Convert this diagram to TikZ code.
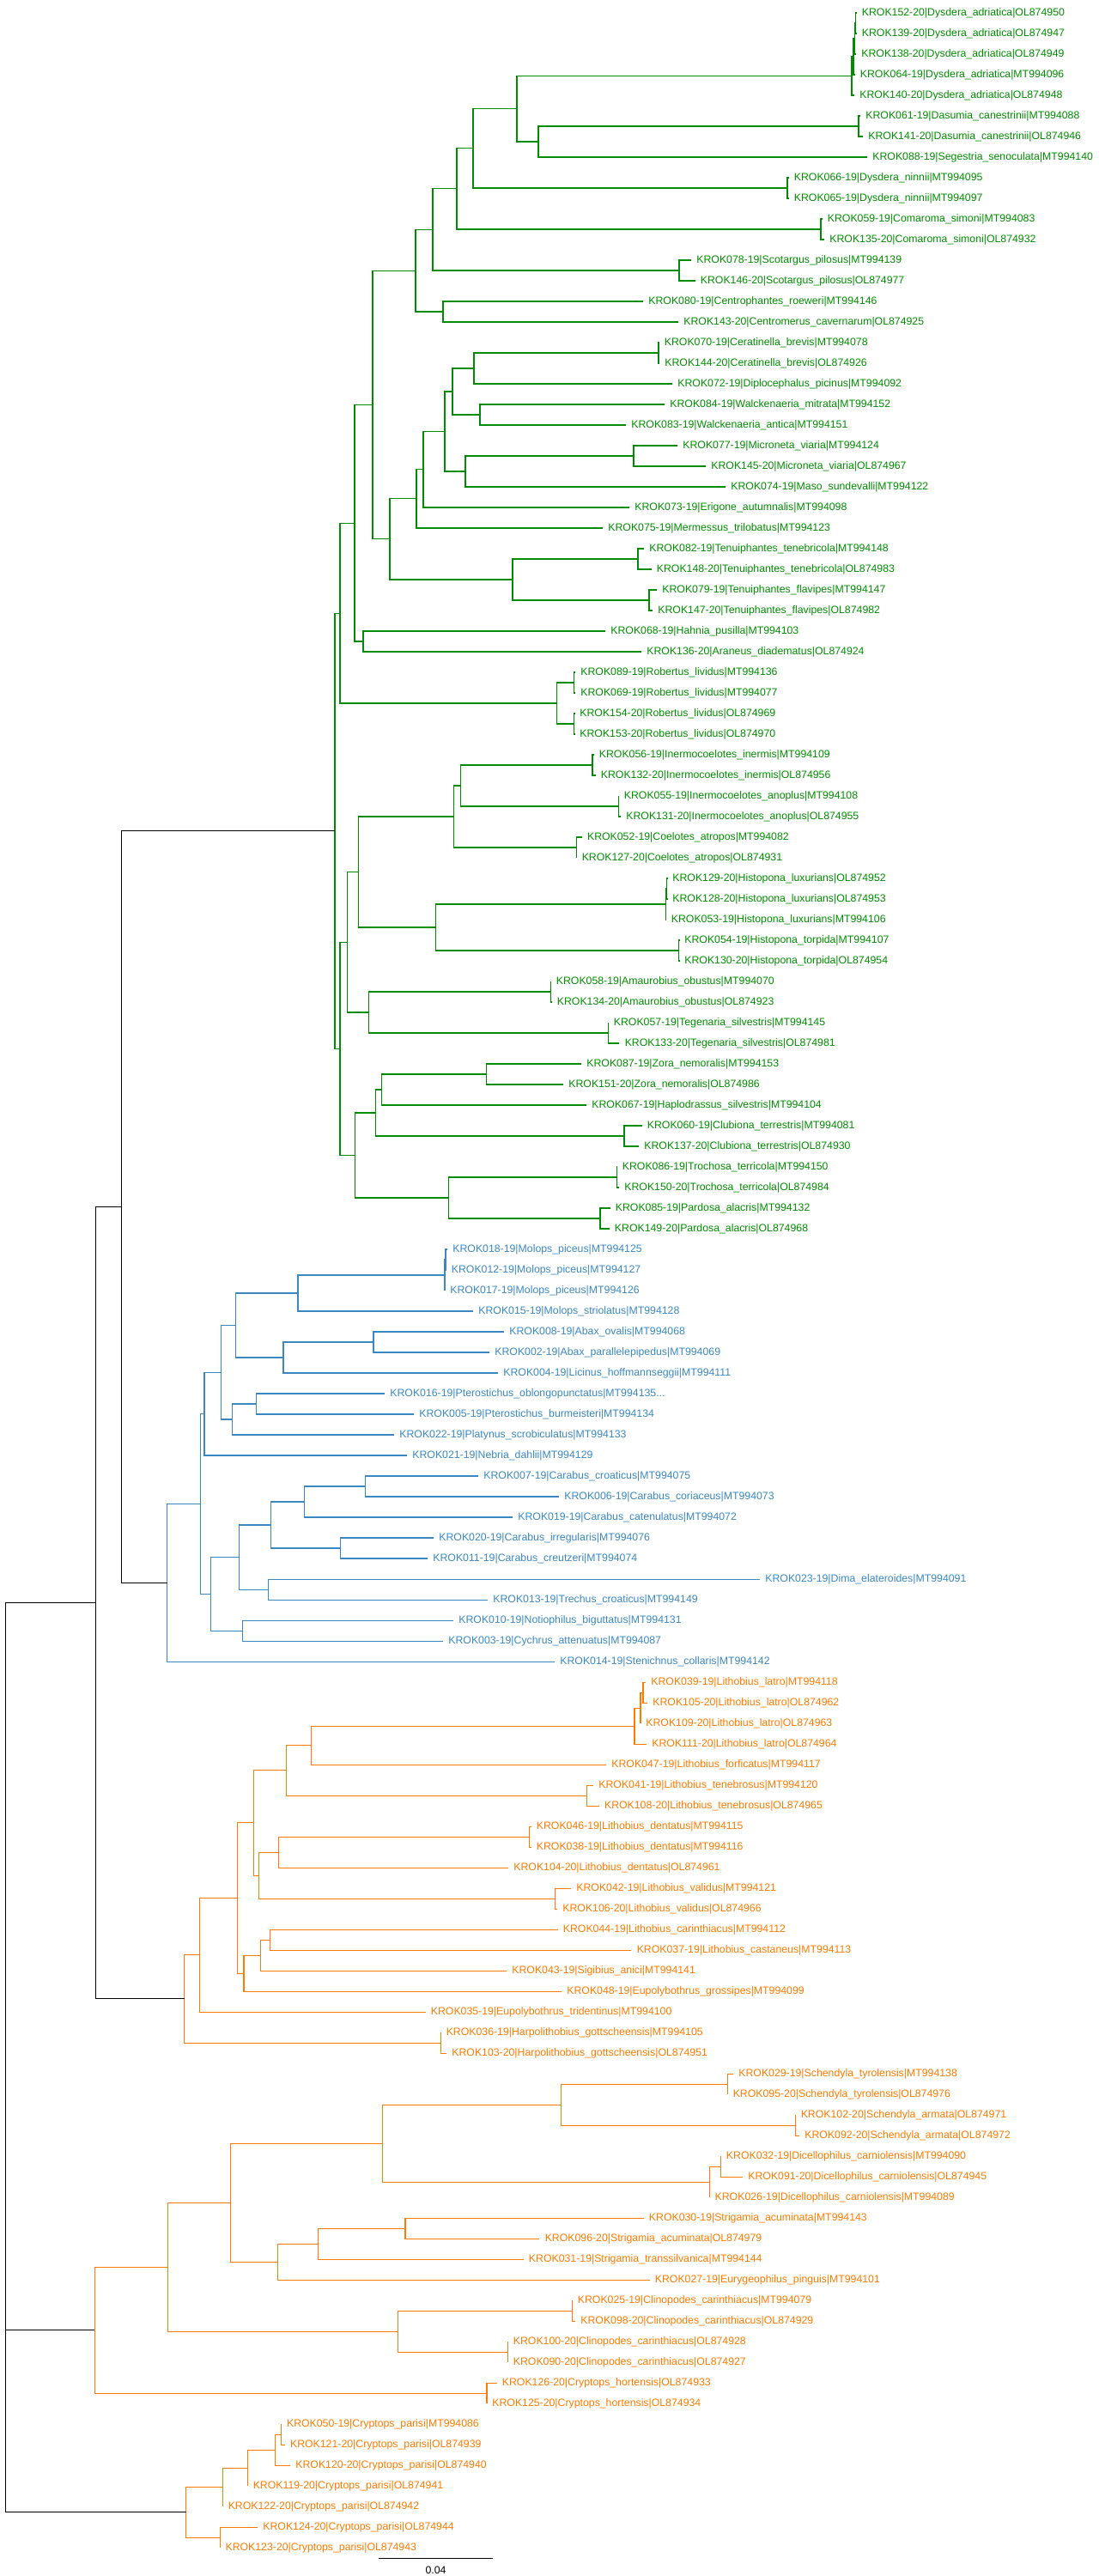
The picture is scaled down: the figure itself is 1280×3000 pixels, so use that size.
\documentclass[tikz,border=0pt]{standalone}
\usepackage{fontspec}
\setmainfont{Liberation Sans}
\definecolor{spidergreen}{RGB}{0,140,0}
\definecolor{beetleblue}{RGB}{58,135,194}
\definecolor{centiorange}{RGB}{255,122,0}
\begin{document}
\begin{tikzpicture}[x=0.02cm, y=-0.02cm,
    branch/.style={line width=0.6pt, line join=miter},
    gbranch/.style={branch, draw=spidergreen},
    bbranch/.style={branch, draw=beetleblue},
    obranch/.style={branch, draw=centiorange},
    kbranch/.style={branch, draw=black},
    leaf/.style={anchor=west, inner sep=0pt, xshift=0.12cm, font=\fontsize{7}{8}\selectfont},
    gleaf/.style={leaf, text=spidergreen},
    bleaf/.style={leaf, text=beetleblue},
    oleaf/.style={leaf, text=centiorange}]
    \useasboundingbox (0,0) rectangle (1280,3000);

    % spiders (green)
    \foreach \i/\x/\txt in {
      1/997.5/{KROK152-20|Dysdera\_adriatica|OL874950}, 2/997.5/{KROK139-20|Dysdera\_adriatica|OL874947},
      3/997/{KROK138-20|Dysdera\_adriatica|OL874949}, 4/995.5/{KROK064-19|Dysdera\_adriatica|MT994096},
      5/995/{KROK140-20|Dysdera\_adriatica|OL874948}, 6/1002/{KROK061-19|Dasumia\_canestrinii|MT994088},
      7/1005/{KROK141-20|Dasumia\_canestrinii|OL874946}, 8/1010/{KROK088-19|Segestria\_senoculata|MT994140},
      9/918.5/{KROK066-19|Dysdera\_ninnii|MT994095}, 10/918.5/{KROK065-19|Dysdera\_ninnii|MT994097},
      11/957.5/{KROK059-19|Comaroma\_simoni|MT994083}, 12/960/{KROK135-20|Comaroma\_simoni|OL874932},
      13/805/{KROK078-19|Scotargus\_pilosus|MT994139}, 14/809.5/{KROK146-20|Scotargus\_pilosus|OL874977},
      15/749/{KROK080-19|Centrophantes\_roeweri|MT994146}, 16/790/{KROK143-20|Centromerus\_cavernarum|OL874925},
      17/767.5/{KROK070-19|Ceratinella\_brevis|MT994078}, 18/768/{KROK144-20|Ceratinella\_brevis|OL874926},
      19/783/{KROK072-19|Diplocephalus\_picinus|MT994092}, 20/774/{KROK084-19|Walckenaeria\_mitrata|MT994152},
      21/729/{KROK083-19|Walckenaeria\_antica|MT994151}, 22/789/{KROK077-19|Microneta\_viaria|MT994124},
      23/822/{KROK145-20|Microneta\_viaria|OL874967}, 24/845/{KROK074-19|Maso\_sundevalli|MT994122},
      25/733/{KROK073-19|Erigone\_autumnalis|MT994098}, 26/702/{KROK075-19|Mermessus\_trilobatus|MT994123},
      27/750/{KROK082-19|Tenuiphantes\_tenebricola|MT994148}, 28/758.5/{KROK148-20|Tenuiphantes\_tenebricola|OL874983},
      29/765/{KROK079-19|Tenuiphantes\_flavipes|MT994147}, 30/760/{KROK147-20|Tenuiphantes\_flavipes|OL874982},
      31/705/{KROK068-19|Hahnia\_pusilla|MT994103}, 32/747/{KROK136-20|Araneus\_diadematus|OL874924},
      33/670/{KROK089-19|Robertus\_lividus|MT994136}, 34/670/{KROK069-19|Robertus\_lividus|MT994077},
      35/669/{KROK154-20|Robertus\_lividus|OL874969}, 36/669/{KROK153-20|Robertus\_lividus|OL874970},
      37/691.5/{KROK056-19|Inermocoelotes\_inermis|MT994109}, 38/693.5/{KROK132-20|Inermocoelotes\_inermis|OL874956},
      39/720.5/{KROK055-19|Inermocoelotes\_anoplus|MT994108}, 40/723/{KROK131-20|Inermocoelotes\_anoplus|OL874955},
      41/677.7/{KROK052-19|Coelotes\_atropos|MT994082}, 42/671.4/{KROK127-20|Coelotes\_atropos|OL874931},
      43/777/{KROK129-20|Histopona\_luxurians|OL874952}, 44/777/{KROK128-20|Histopona\_luxurians|OL874953},
      45/775.5/{KROK053-19|Histopona\_luxurians|MT994106}, 46/791/{KROK054-19|Histopona\_torpida|MT994107},
      47/791/{KROK130-20|Histopona\_torpida|OL874954}, 48/641.5/{KROK058-19|Amaurobius\_obustus|MT994070},
      49/642.5/{KROK134-20|Amaurobius\_obustus|OL874923}, 50/708.5/{KROK057-19|Tegenaria\_silvestris|MT994145},
      51/721.4/{KROK133-20|Tegenaria\_silvestris|OL874981}, 52/677/{KROK087-19|Zora\_nemoralis|MT994153},
      53/656/{KROK151-20|Zora\_nemoralis|OL874986}, 54/683/{KROK067-19|Haplodrassus\_silvestris|MT994104},
      55/747.5/{KROK060-19|Clubiona\_terrestris|MT994081}, 56/744/{KROK137-20|Clubiona\_terrestris|OL874930},
      57/718.5/{KROK086-19|Trochosa\_terricola|MT994150}, 58/721/{KROK150-20|Trochosa\_terricola|OL874984},
      59/710.5/{KROK085-19|Pardosa\_alacris|MT994132}, 60/709.6/{KROK149-20|Pardosa\_alacris|OL874968}}
      {\coordinate (t\i) at (\x,{15+24*(\i-1)});
       \node[gleaf] (l\i) at (t\i) {\txt};}

    % beetles (blue)
    \foreach \i/\x/\txt in {
      61/521/{KROK018-19|Molops\_piceus|MT994125}, 62/519.5/{KROK012-19|Molops\_piceus|MT994127},
      63/518/{KROK017-19|Molops\_piceus|MT994126}, 64/551/{KROK015-19|Molops\_striolatus|MT994128},
      65/587/{KROK008-19|Abax\_ovalis|MT994068}, 66/570/{KROK002-19|Abax\_parallelepipedus|MT994069},
      67/580/{KROK004-19|Licinus\_hoffmannseggii|MT994111}, 68/448/{KROK016-19|Pterostichus\_oblongopunctatus|MT994135...},
      69/482/{KROK005-19|Pterostichus\_burmeisteri|MT994134}, 70/459/{KROK022-19|Platynus\_scrobiculatus|MT994133},
      71/474/{KROK021-19|Nebria\_dahlii|MT994129}, 72/557/{KROK007-19|Carabus\_croaticus|MT994075},
      73/651/{KROK006-19|Carabus\_coriaceus|MT994073}, 74/597/{KROK019-19|Carabus\_catenulatus|MT994072},
      75/505/{KROK020-19|Carabus\_irregularis|MT994076}, 76/498/{KROK011-19|Carabus\_creutzeri|MT994074},
      77/885/{KROK023-19|Dima\_elateroides|MT994091}, 78/568/{KROK013-19|Trechus\_croaticus|MT994149},
      79/528/{KROK010-19|Notiophilus\_biguttatus|MT994131}, 80/516/{KROK003-19|Cychrus\_attenuatus|MT994087},
      81/646/{KROK014-19|Stenichnus\_collaris|MT994142}}
      {\coordinate (t\i) at (\x,{15+24*(\i-1)});
       \node[bleaf] (l\i) at (t\i) {\txt};}

    % centipedes (orange)
    \foreach \i/\x/\txt in {
      82/752/{KROK039-19|Lithobius\_latro|MT994118}, 83/754/{KROK105-20|Lithobius\_latro|OL874962},
      84/746/{KROK109-20|Lithobius\_latro|OL874963}, 85/753/{KROK111-20|Lithobius\_latro|OL874964},
      86/706/{KROK047-19|Lithobius\_forficatus|MT994117}, 87/691/{KROK041-19|Lithobius\_tenebrosus|MT994120},
      88/697.7/{KROK108-20|Lithobius\_tenebrosus|OL874965}, 89/618.5/{KROK046-19|Lithobius\_dentatus|MT994115},
      90/618.5/{KROK038-19|Lithobius\_dentatus|MT994116}, 91/592/{KROK104-20|Lithobius\_dentatus|OL874961},
      92/665/{KROK042-19|Lithobius\_validus|MT994121}, 93/649/{KROK106-20|Lithobius\_validus|OL874966},
      94/649.5/{KROK044-19|Lithobius\_carinthiacus|MT994112}, 95/735.4/{KROK037-19|Lithobius\_castaneus|MT994113},
      96/590/{KROK043-19|Sigibius\_anici|MT994141}, 97/654/{KROK048-19|Eupolybothrus\_grossipes|MT994099},
      98/495.5/{KROK035-19|Eupolybothrus\_tridentinus|MT994100}, 99/513.4/{KROK036-19|Harpolithobius\_gottscheensis|MT994105},
      100/520/{KROK103-20|Harpolithobius\_gottscheensis|OL874951}, 101/854/{KROK029-19|Schendyla\_tyrolensis|MT994138},
      102/847.4/{KROK095-20|Schendyla\_tyrolensis|OL874976}, 103/926.4/{KROK102-20|Schendyla\_armata|OL874971},
      104/931/{KROK092-20|Schendyla\_armata|OL874972}, 105/839.6/{KROK032-19|Dicellophilus\_carniolensis|MT994090},
      106/865/{KROK091-20|Dicellophilus\_carniolensis|OL874945}, 107/826.3/{KROK026-19|Dicellophilus\_carniolensis|MT994089},
      108/749.6/{KROK030-19|Strigamia\_acuminata|MT994143}, 109/628.4/{KROK096-20|Strigamia\_acuminata|OL874979},
      110/609.6/{KROK031-19|Strigamia\_transsilvanica|MT994144}, 111/756.5/{KROK027-19|Eurygeophilus\_pinguis|MT994101},
      112/666.5/{KROK025-19|Clinopodes\_carinthiacus|MT994079}, 113/670/{KROK098-20|Clinopodes\_carinthiacus|OL874929},
      114/591.5/{KROK100-20|Clinopodes\_carinthiacus|OL874928}, 115/591.5/{KROK090-20|Clinopodes\_carinthiacus|OL874927},
      116/578.5/{KROK126-20|Cryptops\_hortensis|OL874933}, 117/567/{KROK125-20|Cryptops\_hortensis|OL874934},
      118/327.7/{KROK050-19|Cryptops\_parisi|MT994086}, 119/331.7/{KROK121-20|Cryptops\_parisi|OL874939},
      120/338/{KROK120-20|Cryptops\_parisi|OL874940}, 121/288.4/{KROK119-20|Cryptops\_parisi|OL874941},
      122/259.4/{KROK122-20|Cryptops\_parisi|OL874942}, 123/300/{KROK124-20|Cryptops\_parisi|OL874944},
      124/256.2/{KROK123-20|Cryptops\_parisi|OL874943}}
      {\coordinate (t\i) at (\x,{15+24*(\i-1)});
       \node[oleaf] (l\i) at (t\i) {\txt};}

    % inner nodes
    \foreach \n/\x/\y in {
      gA1/996.5/27, gA2/995.5/45, gA3/994/66, gA4/992/88.5, gB/1000/147, gC/627/165,
      gD/602/126.75, gE/917/219, gF/551/172.9, gG/956/267, gH/532/219.9, gI/791/315,
      gJ/504/267.5, gK/516/363, gL/484/315.2, gM/767/411, gN/552/429, gO/559/483,
      gP/527/456, gQ/738/531, gR/542/549, gS/518/502.5, gT/493/546.75, gU/485/580.9,
      gV/743/651, gW/756/699, gX/597/675, gY/454/627.9, gZ/434/471.6, gAa/423/747,
      gAb/413/609.3, gRa/668.8/795, gRb/668.8/843, gRc/648.6/819, gAc/396/714.2,
      gCa/690/891, gCb/720.5/939, gCc/536.6/915, gCd/671.4/987, gCe/528.6/951,
      gHa/776.8/1035, gHb/775.4/1053, gHc/790.6/1107, gHd/507.6/1080, gCf/417.4/1015.5,
      gAm/641.5/1155, gTe/708.5/1203, gCg/429.5/1179, gCh/404.5/1097.25, gZo/566.5/1251,
      gCi/444.6/1269, gCl/727/1323, gCj/437.5/1296, gTr/718.3/1371, gPa/699/1419,
      gCk/522.3/1395, gCm/413.4/1345.5, gCn/396/1221.4, gRoot/390/967.8,
      b1/519/1467, b2/518/1485, b3/347/1506, bAb/435/1563, b4/330/1581, b5/274.5/1543.5,
      bPt/298.7/1635, b6/270.5/1653, b7/257.6/1598.25, b8/238/1646.6, bCa1/425.4/1731,
      bCa2/354.5/1749, bCa3/396.4/1803, b9/315.6/1776, b10/312.5/1851, b11/278.6/1813.5,
      b12/282.6/1899, b13/245.5/1856.25, b14/233.5/1751.4, bRoot/194.6/1843.2,
      oLa1/749/1971, oLa2/746/1989, oLa3/739/2010, o1/362.5/2032.5, oTe/683.5/2091,
      o2/333.5/2061.75, oDe/616.5/2139, o3/324.5/2157, oVa/646.4/2211, o4/301.3/2184,
      o5/295.5/2122.9, o6/314.7/2259, o7/303.6/2277, o8/284/2298, o9/276.3/2210.4,
      o10/232.6/2276.7, oHa/513.4/2379, oLi/214.7/2327.9, oSt/847.4/2427, oSa/926.4/2475,
      o11/653.7/2451, oDi1/839.6/2523, oDi2/826.3/2541, o12/445.5/2496, oSg1/472/2595,
      oSg2/370.5/2613, o13/323.7/2634, o14/268.3/2565, oCl1/666.5/2691, oCl2/591.5/2739,
      oCl3/463.4/2715, o15/195.5/2640, oCh/567/2787, oGe/110.3/2713.5, oCp1/327.7/2835,
      oCp2/320.5/2853, oCp3/288.4/2874, oCp4/259.4/2896.5, oCp5/256.2/2955, oCp/216.5/2925.75,
      r1/141.5/1405.5, r2/111.3/1866.7, root/6.7/2396.2}
      \coordinate (\n) at (\x,\y);

    % branches
    \foreach \p/\c in {gA1/t1, gA1/t2, gA2/gA1, gA2/t3, gA3/gA2, gA3/t4, gA4/gA3, gA4/t5,
      gB/t6, gB/t7, gC/gB, gC/t8, gD/gA4, gD/gC, gE/t9, gE/t10, gF/gD, gF/gE, gG/t11, gG/t12,
      gH/gF, gH/gG, gI/t13, gI/t14, gJ/gH, gJ/gI, gK/t15, gK/t16, gL/gJ, gL/gK,
      gM/t17, gM/t18, gN/gM, gN/t19, gO/t20, gO/t21, gP/gN, gP/gO, gQ/t22, gQ/t23,
      gR/gQ, gR/t24, gS/gP, gS/gR, gT/gS, gT/t25, gU/gT, gU/t26, gV/t27, gV/t28,
      gW/t29, gW/t30, gX/gV, gX/gW, gY/gU, gY/gX, gZ/gL, gZ/gY, gAa/t31, gAa/t32,
      gAb/gZ, gAb/gAa, gRa/t33, gRa/t34, gRb/t35, gRb/t36, gRc/gRa, gRc/gRb, gAc/gAb, gAc/gRc,
      gCa/t37, gCa/t38, gCb/t39, gCb/t40, gCc/gCa, gCc/gCb, gCd/t41, gCd/t42, gCe/gCc, gCe/gCd,
      gHa/t43, gHa/t44, gHb/gHa, gHb/t45, gHc/t46, gHc/t47, gHd/gHb, gHd/gHc, gCf/gCe, gCf/gHd,
      gAm/t48, gAm/t49, gTe/t50, gTe/t51, gCg/gAm, gCg/gTe, gCh/gCf, gCh/gCg,
      gZo/t52, gZo/t53, gCi/gZo, gCi/t54, gCl/t55, gCl/t56, gCj/gCi, gCj/gCl,
      gTr/t57, gTr/t58, gPa/t59, gPa/t60, gCk/gTr, gCk/gPa, gCm/gCj, gCm/gCk,
      gCn/gCh, gCn/gCm, gRoot/gAc, gRoot/gCn}
      \draw[gbranch] (\p) |- (\c);
    \foreach \p/\c in {b1/t61, b1/t62, b2/b1, b2/t63, b3/b2, b3/t64, bAb/t65, bAb/t66,
      b4/bAb, b4/t67, b5/b3, b5/b4, bPt/t68, bPt/t69, b6/bPt, b6/t70, b7/b5, b7/b6,
      b8/b7, b8/t71, bCa1/t72, bCa1/t73, bCa2/bCa1, bCa2/t74, bCa3/t75, bCa3/t76,
      b9/bCa2, b9/bCa3, b10/t77, b10/t78, b11/b9, b11/b10, b12/t79, b12/t80,
      b13/b11, b13/b12, b14/b8, b14/b13, bRoot/b14, bRoot/t81}
      \draw[bbranch] (\p) |- (\c);
    \foreach \p/\c in {oLa1/t82, oLa1/t83, oLa2/oLa1, oLa2/t84, oLa3/oLa2, oLa3/t85,
      o1/oLa3, o1/t86, oTe/t87, oTe/t88, o2/o1, o2/oTe, oDe/t89, oDe/t90, o3/oDe, o3/t91,
      oVa/t92, oVa/t93, o4/o3, o4/oVa, o5/o2, o5/o4, o6/t94, o6/t95, o7/o6, o7/t96,
      o8/o7, o8/t97, o9/o5, o9/o8, o10/o9, o10/t98, oHa/t99, oHa/t100, oLi/o10, oLi/oHa,
      oSt/t101, oSt/t102, oSa/t103, oSa/t104, o11/oSt, o11/oSa, oDi1/t105, oDi1/t106,
      oDi2/oDi1, oDi2/t107, o12/o11, o12/oDi2, oSg1/t108, oSg1/t109, oSg2/oSg1, oSg2/t110,
      o13/oSg2, o13/t111, o14/o12, o14/o13, oCl1/t112, oCl1/t113, oCl2/t114, oCl2/t115,
      oCl3/oCl1, oCl3/oCl2, o15/o14, o15/oCl3, oCh/t116, oCh/t117, oGe/o15, oGe/oCh,
      oCp1/t118, oCp1/t119, oCp2/oCp1, oCp2/t120, oCp3/oCp2, oCp3/t121, oCp4/oCp3, oCp4/t122,
      oCp5/t123, oCp5/t124, oCp/oCp4, oCp/oCp5}
      \draw[obranch] (\p) |- (\c);
    \foreach \p/\c in {r1/gRoot, r1/bRoot, r2/r1, r2/oLi, root/r2, root/oGe, root/oCp}
      \draw[kbranch] (\p) |- (\c);

    % scale bar
    \coordinate (barL) at (441,2979);
    \coordinate (barR) at (574,2979);
    \draw[kbranch] (barL) -- (barR);
    \node[font=\fontsize{7}{8}\selectfont, inner sep=0pt] (barlabel) at (507.5,2993) {0.04};
\end{tikzpicture}
\end{document}
